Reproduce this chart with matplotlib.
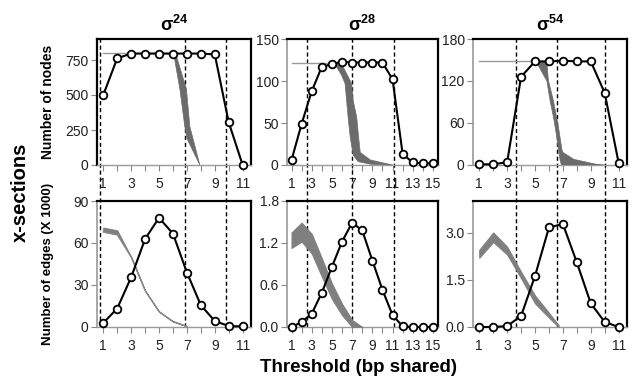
import matplotlib
matplotlib.use("Agg")
import matplotlib.pyplot as plt
import numpy as np

plt.rcParams["font.family"] = ["Liberation Sans", "DejaVu Sans"]
plt.rcParams["mathtext.fontset"] = "custom"
plt.rcParams["mathtext.bf"] = "Liberation Sans:bold"
plt.rcParams["mathtext.rm"] = "Liberation Sans"

# --- dati ---
titles = ["24", "28", "54"]

x_24 = list(range(1, 12))
nodes_24 = [500, 762, 796, 796, 796, 796, 796, 796, 790, 305, 0]
edges_24 = [2.9, 13.2, 35.5, 62.9, 78, 66.7, 38.9, 15.6, 4.3, 0.7, 0.4]

x_28 = list(range(1, 16))
nodes_28 = [6, 49, 88, 117, 120, 123, 122, 122, 122, 122, 102, 13, 3, 2, 2]
edges_28 = [0.0, 0.07, 0.19, 0.49, 0.86, 1.22, 1.49, 1.38, 0.95, 0.53, 0.17, 0.01, 0.0, 0.0, 0.0]

x_54 = list(range(1, 12))
nodes_54 = [1, 1, 4, 126, 148, 148, 149, 148, 148, 103, 3]
edges_54 = [0.0, 0.0, 0.03, 0.35, 1.62, 3.16, 3.27, 2.05, 0.75, 0.16, 0.0]

# soglie (linee tratteggiate)
cuts_24 = [0.75, 6.9, 9.8]
cuts_28 = [2.5, 7.0, 11.1]
cuts_54 = [3.62, 6.57, 10.04]

# linea grigia orizzontale (livello massimo)
ref_24 = (1, 6.1, 798)
ref_28 = (1, 5.3, 122)
ref_54 = (1, 5.1, 148)

# bande grigie pannelli superiori (bordo sinistro/basso e destro/alto)
band_n24_lo_x = [6.05, 6.5, 6.85, 7.0, 7.93]
band_n24_lo_y = [795, 540, 275, 190, 0]
band_n24_hi_x = [6.2, 6.97, 7.21, 7.93]
band_n24_hi_y = [795, 540, 275, 0]

band_n28_lo_x = [5.3, 5.95, 6.3, 6.45, 6.6, 6.8, 7.1, 7.6, 8.8, 11]
band_n28_lo_y = [120, 107, 97, 77, 57, 34, 12, 4, 1, 0]
band_n28_hi_x = [5.3, 6.1, 6.95, 7.1, 7.45, 7.6, 7.8, 8.8, 11]
band_n28_hi_y = [121, 117, 97, 77, 57, 38, 15, 6, 0]

band_n54_lo_x = [5.1, 5.85, 6.09, 6.33, 6.57, 6.69, 6.81, 6.9]
band_n54_lo_y = [147, 120, 91, 68, 39, 20, 6, 0]
band_n54_hi_x = [5.1, 5.85, 5.96, 6.33, 6.69, 6.93, 7.0, 7.8, 9.4, 10]
band_n54_hi_y = [148, 147, 121, 91, 53, 22, 18, 8, 1, 0]

# bande grigie pannelli inferiori
band_e24_x = [1, 2, 3, 4, 5, 6, 7]
band_e24_hi = [71, 69, 50, 26, 11, 4, 0.5]
band_e24_lo = [68, 66, 50, 26, 11, 4, 0.5]

band_e28_x = [1, 2, 3, 4, 5, 6, 7, 8]
band_e28_hi = [1.35, 1.49, 1.33, 0.98, 0.62, 0.33, 0.1, 0.0]
band_e28_lo = [1.13, 1.22, 1.05, 0.72, 0.40, 0.17, 0.0, 0.0]

band_e54_x = [1, 2, 3, 4, 5, 6, 6.7]
band_e54_hi = [2.45, 3.0, 2.55, 1.75, 1.0, 0.45, 0.05]
band_e54_lo = [2.2, 2.7, 2.3, 1.55, 0.75, 0.3, 0.0]

W, H = 632, 378
fig = plt.figure(figsize=(W / 100, H / 100), dpi=100)

cols = [(97, 251), (287, 438), (473, 627)]
rows = [(39, 165), (201, 327)]


def make_ax(c, r):
    l, rr = cols[c]
    t, b = rows[r]
    return fig.add_axes([l / W, 1 - b / H, (rr - l) / W, (b - t) / H])


def style(ax, xmax, ylim, yticks, ylabels, left_black=False):
    ax.set_xlim(0.55, xmax)
    ax.set_ylim(*ylim)
    xt = np.arange(1, int(xmax) + 1)
    ax.set_xticks(xt)
    ax.set_xticklabels([str(v) if v % 2 == 1 else "" for v in xt])
    ax.set_yticks(yticks)
    ax.set_yticklabels(ylabels)
    ax.tick_params(axis="both", direction="out", length=4, width=0.8,
                   color="#888888", labelsize=10, labelcolor="#222222")
    ax.tick_params(axis="x", pad=5)
    ax.tick_params(axis="y", pad=2)
    for s in ["top", "right"]:
        ax.spines[s].set_color("black")
        ax.spines[s].set_linewidth(1.6)
    ax.spines["bottom"].set_color("#999999")
    ax.spines["bottom"].set_linewidth(1.0)
    ax.spines["left"].set_color("black" if left_black else "#999999")
    ax.spines["left"].set_linewidth(1.6 if left_black else 1.2)


def cuts(ax_top, ax_bot, xs):
    for xv in xs:
        ax_top.axvline(xv, ymin=-0.29, ymax=1, color="black", lw=1.0,
                       dashes=(3, 2), clip_on=False, zorder=2)
        ax_bot.axvline(xv, color="black", lw=1.0, dashes=(3, 2), zorder=2)


def curve(ax, x, y):
    ax.plot(x, y, color="black", lw=1.5, marker="o", ms=5.5,
            mfc="white", mec="black", mew=1.3, zorder=5, clip_on=False)


def band(ax, lx, ly, hx, hy):
    px = list(lx) + list(hx[::-1])
    py = list(ly) + list(hy[::-1])
    ax.fill(px, py, color="#6b6b6b", lw=0.5, ec="#6b6b6b", zorder=3)


data = [
    (x_24, nodes_24, edges_24, cuts_24, ref_24, 11.6,
     (0, 900), [0, 250, 500, 750], ["0", "250", "500", "750"],
     (0, 90), [0, 30, 60, 90], ["0", "30", "60", "90"],
     (band_n24_lo_x, band_n24_lo_y, band_n24_hi_x, band_n24_hi_y),
     (band_e24_x, band_e24_lo, band_e24_hi)),
    (x_28, nodes_28, edges_28, cuts_28, ref_28, 15.5,
     (0, 150), [0, 50, 100, 150], ["0", "50", "100", "150"],
     (0, 1.8), [0, 0.6, 1.2, 1.8], ["0.0", "0.6", "1.2", "1.8"],
     (band_n28_lo_x, band_n28_lo_y, band_n28_hi_x, band_n28_hi_y),
     (band_e28_x, band_e28_lo, band_e28_hi)),
    (x_54, nodes_54, edges_54, cuts_54, ref_54, 11.6,
     (0, 180), [0, 60, 120, 180], ["0", "60", "120", "180"],
     (0, 4.0), [0, 1.5, 3.0], ["0.0", "1.5", "3.0"],
     (band_n54_lo_x, band_n54_lo_y, band_n54_hi_x, band_n54_hi_y),
     (band_e54_x, band_e54_lo, band_e54_hi)),
]

for c, (x, nodes, edges, cx, ref, xmax, yl1, yt1, ytl1,
        yl2, yt2, ytl2, bn, be) in enumerate(data):
    at = make_ax(c, 0)
    ab = make_ax(c, 1)
    style(at, xmax, yl1, yt1, ytl1, left_black=(c == 0))
    style(ab, xmax, yl2, yt2, ytl2)

    # pannello superiore: nodi
    at.plot([ref[0], ref[1]], [ref[2], ref[2]], color="#9a9a9a", lw=1.0, zorder=3)
    band(at, *bn)
    curve(at, x, nodes)

    # pannello inferiore: archi
    bx, blo, bhi = be
    ab.fill_between(bx, blo, bhi, color="#7f7f7f", lw=0.8, ec="#7f7f7f", zorder=3)
    if c == 0:
        ab.plot(bx, blo, color="#8a8a8a", lw=0.9, zorder=3)
    curve(ab, x, edges)

    cuts(at, ab, cx)

    at.set_title(r"$\mathbf{\sigma}^{\mathbf{%s}}$" % titles[c],
                 fontsize=13, pad=6)

fig.text(48 / W, 1 - 102 / H, "Number of nodes", rotation=90, ha="center",
         va="center", fontsize=10, fontweight="bold")
fig.text(48 / W, 1 - 264 / H, "Number of edges (X 1000)", rotation=90,
         ha="center", va="center", fontsize=9.5, fontweight="bold")
fig.text(20 / W, 1 - 192 / H, "x-sections", rotation=90, ha="center",
         va="center", fontsize=14.5, fontweight="bold")
fig.text(359 / W, 1 - 368 / H, "Threshold (bp shared)", ha="center",
         va="center", fontsize=13.5, fontweight="bold")

fig.savefig("out.png", dpi=100)
